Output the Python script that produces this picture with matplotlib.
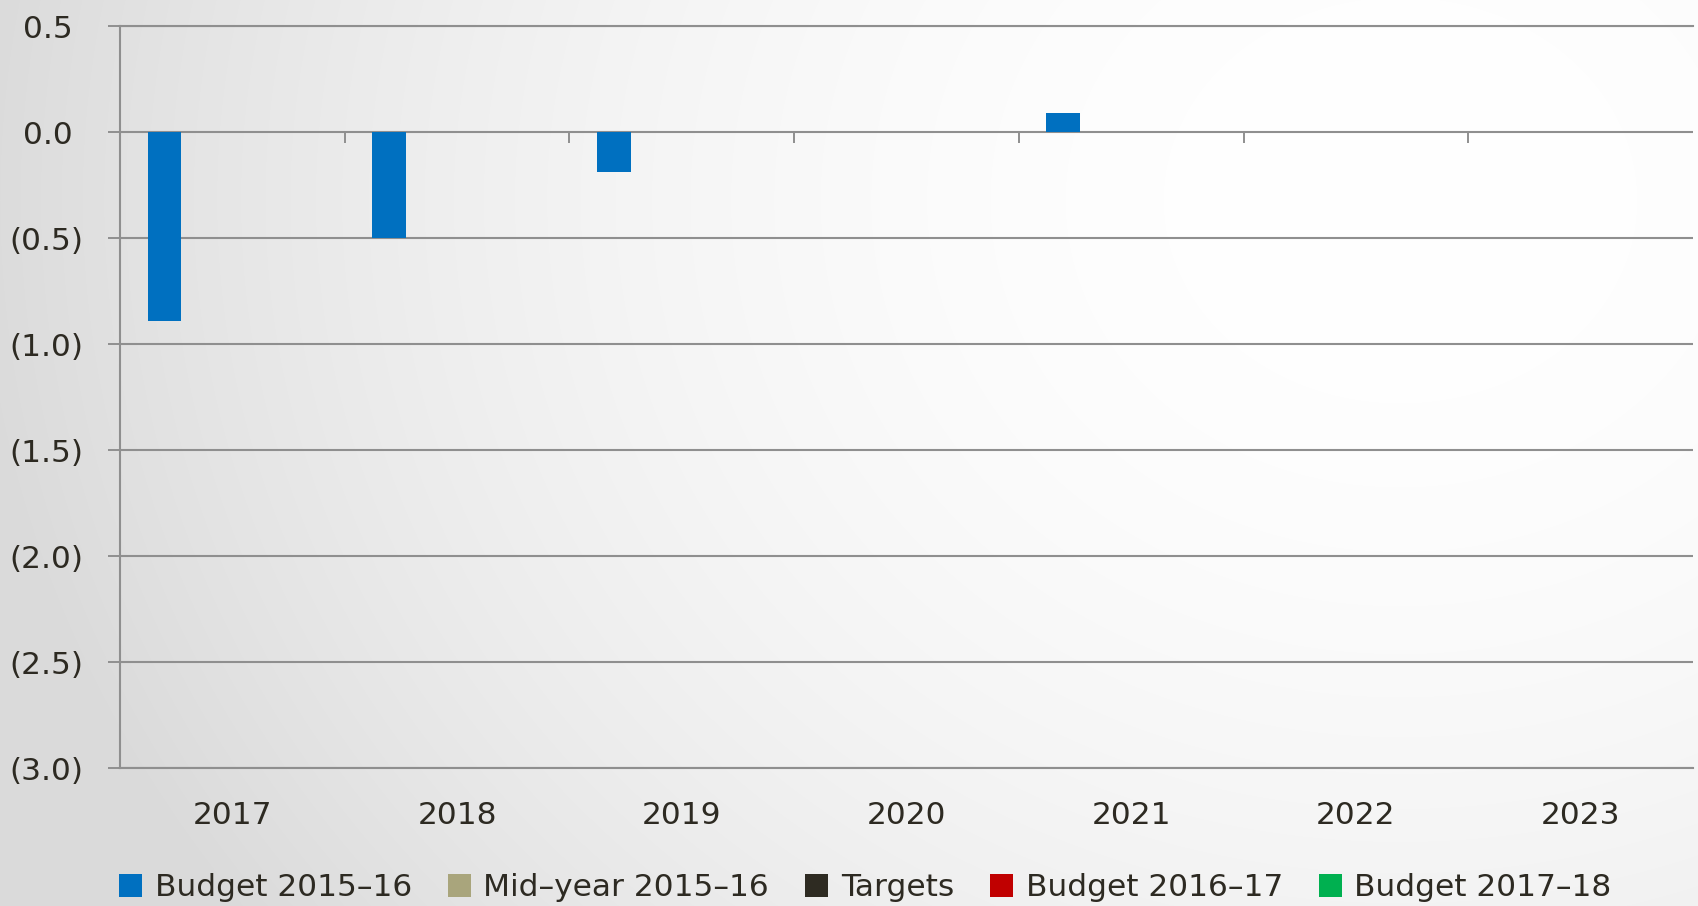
import numpy as np
import matplotlib
matplotlib.use('Agg')
from matplotlib import pyplot as plt
from matplotlib.patches import Patch
from matplotlib.ticker import FuncFormatter

years = ['2017', '2018', '2019', '2020', '2021', '2022', '2023']
series_names = ['Budget 2015\u201316', 'Mid\u2013year 2015\u201316', 'Targets',
                'Budget 2016\u201317', 'Budget 2017\u201318']
budget_1516 = [-0.89, -0.50, -0.19, np.nan, 0.09, np.nan, np.nan]
midyear_1516 = [np.nan] * 7
targets = [np.nan] * 7
budget_1617 = [np.nan] * 7
budget_1718 = [np.nan] * 7
colors = ['#0070c0', '#a9a57c', '#2e2b22', '#c00000', '#00b050']
yticks = [0.5, 0.0, -0.5, -1.0, -1.5, -2.0, -2.5, -3.0]

text_col = '#2d2a22'
grid_col = '#8f8f8f'
fs = 22.5

plt.rcParams['font.family'] = ['DejaVu Sans']

W, H = 1698, 906
fig = plt.figure(figsize=(W / 100, H / 100), dpi=100)

# soft radial background, light towards the upper right
bg = fig.add_axes([0, 0, 1, 1], zorder=-10)
xx, yy = np.meshgrid(np.arange(W), np.arange(H))
d2 = ((xx - 1400) / 1400.0) ** 2 + ((yy - 200) / 1200.0) ** 2
v = (255 - 35 * np.clip(d2, 0, 1.05)) / 255.0
bg.imshow(np.dstack([v, v, v]), aspect='auto', extent=[0, 1, 0, 1])
bg.set_axis_off()

ax = fig.add_axes([120 / W, 1 - 768 / H, 1573 / W, (768 - 26) / H])
ax.patch.set_alpha(0)

all_series = [budget_1516, midyear_1516, targets, budget_1617, budget_1718]
x = np.arange(len(years))
width = 0.151
for i, vals in enumerate(all_series):
    ax.bar(x + (i - 2) * width, vals, width, color=colors[i], linewidth=0, zorder=3)

ax.set_xlim(-0.5, len(years) - 0.5)
ax.set_ylim(-3.0, 0.5)
ax.set_yticks(yticks)

def fmt(val, pos):
    if val < -1e-9:
        return '({:.1f})'.format(abs(val))
    return '{:.1f}\u2008'.format(val)

ax.yaxis.set_major_formatter(FuncFormatter(fmt))
ax.yaxis.grid(True, color=grid_col, linewidth=1.5, zorder=1)
ax.set_axisbelow(True)
ax.tick_params(axis='y', length=8.6, width=1.4, color=grid_col, pad=18,
               labelsize=fs, labelcolor=text_col)
ax.set_xticks(x)
ax.set_xticklabels(years)
ax.tick_params(axis='x', length=0, pad=24, labelsize=fs, labelcolor=text_col)

for s in ['top', 'bottom', 'left']:
    ax.spines[s].set_color(grid_col)
    ax.spines[s].set_linewidth(1.5)
ax.spines['right'].set_visible(False)

# category separators on the zero line
ax.vlines(x[:-1] + 0.5, -0.052, 0, color=grid_col, linewidth=1.4, zorder=2)

handles = [Patch(facecolor=c, edgecolor='none') for c in colors]
fig.legend(handles, series_names, loc='center left',
           bbox_to_anchor=(119 / W, 1 - 888 / H), ncol=5, frameon=False,
           fontsize=fs, labelcolor=text_col, borderpad=0, borderaxespad=0,
           handlelength=0.74, handleheight=0.74, handletextpad=0.4,
           columnspacing=1.15)

fig.savefig('out.png', dpi=100)
